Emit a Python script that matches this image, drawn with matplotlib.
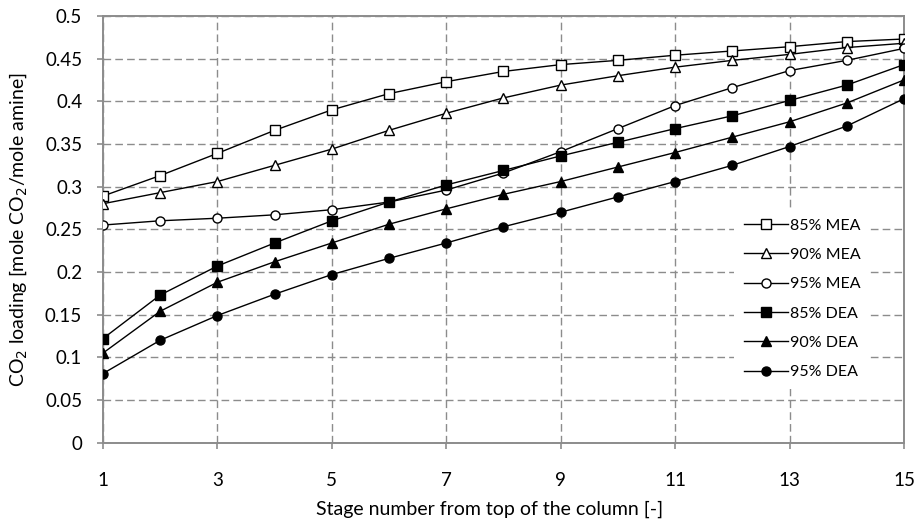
import matplotlib.pyplot as plt
import numpy as np

plt.rcParams['font.family'] = ['Lato', 'DejaVu Sans']

# stage numbers and CO2 loading
stages = list(range(1, 16))

mea_85 = [0.289, 0.313, 0.339, 0.366, 0.390, 0.409, 0.423, 0.435, 0.443, 0.448,
          0.454, 0.459, 0.464, 0.470, 0.473]
mea_90 = [0.280, 0.293, 0.306, 0.325, 0.344, 0.366, 0.386, 0.404, 0.419, 0.430,
          0.440, 0.448, 0.455, 0.463, 0.468]
mea_95 = [0.255, 0.260, 0.263, 0.267, 0.273, 0.282, 0.296, 0.316, 0.341, 0.368,
          0.395, 0.416, 0.436, 0.448, 0.462]
dea_85 = [0.122, 0.173, 0.207, 0.234, 0.260, 0.282, 0.302, 0.319, 0.336, 0.352,
          0.368, 0.383, 0.401, 0.419, 0.443]
dea_90 = [0.105, 0.154, 0.188, 0.212, 0.234, 0.256, 0.274, 0.291, 0.306, 0.323,
          0.340, 0.358, 0.376, 0.398, 0.425]
dea_95 = [0.081, 0.120, 0.149, 0.174, 0.197, 0.216, 0.234, 0.253, 0.270, 0.288,
          0.306, 0.325, 0.347, 0.371, 0.403]

series = [
    ('85% MEA', mea_85, 's', 'white'),
    ('90% MEA', mea_90, '^', 'white'),
    ('95% MEA', mea_95, 'o', 'white'),
    ('85% DEA', dea_85, 's', 'black'),
    ('90% DEA', dea_90, '^', 'black'),
    ('95% DEA', dea_95, 'o', 'black'),
]

grid_col = '#8c8c8c'

fig = plt.figure(figsize=(9.18, 5.22), dpi=100)
ax = fig.add_axes([0.1122, 0.152, 0.8725, 0.8174])

for label, vals, mk, fc in series:
    ax.plot(stages, vals, color='black', lw=1.0, marker=mk,
            markersize=7 if mk == '^' else 6.5,
            markerfacecolor=fc, markeredgecolor='black', markeredgewidth=1.0,
            label=label, zorder=3)

ax.set_xlim(1, 15)
ax.set_ylim(0, 0.5)
ax.set_xticks(range(1, 16, 2))
ax.set_yticks(np.arange(0, 0.501, 0.05))
ax.set_yticklabels(['0', '0.05', '0.1', '0.15', '0.2', '0.25', '0.3', '0.35',
                    '0.4', '0.45', '0.5'])

ax.grid(True, color=grid_col, lw=1.0, linestyle=(0, (5.5, 3)), zorder=0)
for s in ax.spines.values():
    s.set_color(grid_col)
    s.set_linewidth(1.4)

ax.tick_params(axis='x', direction='out', length=4, color=grid_col, width=1.2,
               labelsize=13.5, pad=17)
ax.tick_params(axis='y', direction='out', length=4, color=grid_col, width=1.2,
               labelsize=13.5, pad=11)

ax.set_xlabel('Stage number from top of the column [-]', fontsize=14)
ax.xaxis.set_label_coords(0.483, -0.135)
ax.set_ylabel('CO$_2$ loading [mole CO$_2$/mole amine]', fontsize=14)
ax.yaxis.set_label_coords(-0.092, 0.5)

leg = ax.legend(loc='center left', bbox_to_anchor=(0.788, 0.337), frameon=True,
                fontsize=11.5, handlelength=2.75, handletextpad=0.15,
                labelspacing=0.95, borderpad=0.6, borderaxespad=0)
leg.get_frame().set_edgecolor('none')
leg.get_frame().set_facecolor('white')
leg.get_frame().set_alpha(1)
leg.get_frame().set_boxstyle('square', pad=0)

fig.savefig('out.png', dpi=100)
